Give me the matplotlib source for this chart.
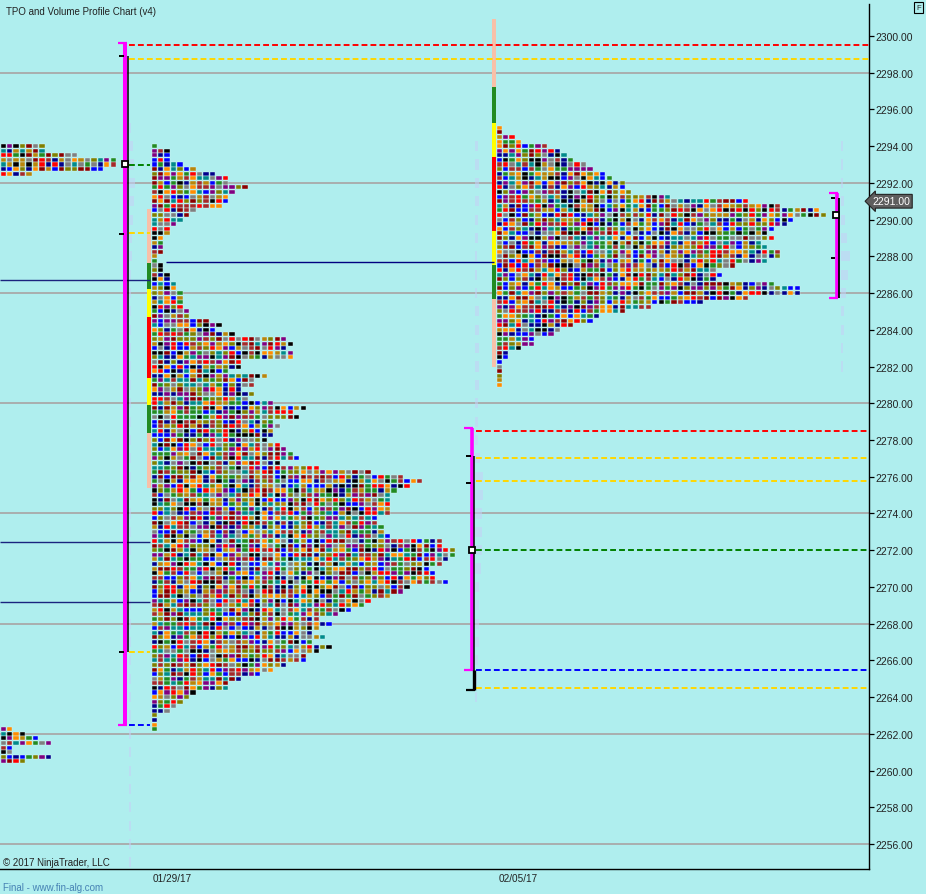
import numpy as np
import matplotlib
matplotlib.use('Agg')
import matplotlib.pyplot as plt

BG = '#AFEEEE'
TICK = 0.25
FONT = ['Liberation Sans', 'DejaVu Sans']
plt.rcParams['font.family'] = FONT

# ---- TPO counts per price row (top row first, 0.25 step) ----
p1_top = 2294.0
p1_counts = [
    1, 3, 3, 3, 5, 7, 10, 12, 12, 15, 13, 12, 12, 11, 7, 6, 5, 4, 3, 3, 2, 2, 2, 2,
    1, 1, 2, 2, 3, 3, 4, 4, 5,
    5, 5, 5, 6, 6, 9, 11, 10, 13, 21, 22, 21, 22, 22, 14, 14, 12, 18, 16, 16, 14, 16,
    15, 19, 24, 22, 23, 19, 20, 19, 19, 18, 20, 21, 22, 23,
    20, 26, 34, 39, 42, 40, 38, 37, 37, 37, 37, 37, 35, 35, 36, 36, 37, 45, 45, 47,
    47, 46, 45, 43, 44, 44, 46, 40, 39, 37,
    34, 33, 31, 29, 26, 28, 26, 25, 27, 25, 28, 26, 24, 24, 21, 19, 17, 14, 12, 12,
    7, 6, 5, 4, 3, 1, 1, 1, 1,
]
p2_top = 2295.0
p2_counts = [
    1, 1, 3, 4, 8, 10, 11, 12, 14, 15, 17, 18, 20, 20, 21, 27, 39, 44, 50, 51,
    46, 45, 43, 42, 43, 41, 42, 44, 44, 42, 37, 34, 35, 34, 43, 47, 47, 39, 32, 24,
    20, 16, 15, 12, 10, 9, 6, 6, 4, 2, 2, 1, 1, 1, 1, 1, 1,
]
prev_hi_top = 2294.0
prev_hi_counts = [7, 7, 12, 18, 18, 16, 5]
prev_lo_top = 2262.25
prev_lo_counts = [2, 4, 6, 8, 2, 2, 8, 4]

# ---- period colour strips next to each profile ----
strip1_edges = [2290.6, 2287.65, 2286.2, 2284.7, 2281.4, 2279.9, 2278.4, 2275.4]
strip2_edges = [2300.9, 2297.2, 2295.25, 2293.4, 2289.4, 2287.55, 2285.7, 2281.95]
strip_colors = ['#F8C0A8', '#228B22', '#FFFF00', '#FF0000', '#FFFF00', '#228B22', '#F8C0A8']

# ---- volume profiles (px width per 1.0 point) ----
vol1_prices = np.arange(2295, 2254, -1)
vol1_width = [2, 4, 5, 6, 5, 4, 3, 3, 2, 2, 2, 2, 2, 2, 2, 2, 2, 2, 2, 2, 2,
              2, 2, 2, 2, 2, 2, 2, 2, 2, 2, 2, 2, 2, 2, 2, 2, 2, 2, 2, 2]
vol2_prices = np.arange(2294, 2263, -1)
vol2_width = [3, 4, 4, 4, 3, 3, 2, 2, 2, 4, 4, 4, 4, 4, 3, 3, 3, 5, 8, 8, 7,
              7, 7, 6, 4, 4, 4, 4, 3, 2, 2]
vol3_prices = np.arange(2294, 2281, -1)
vol3_width = [2, 2, 2, 3, 4, 6, 9, 7, 5, 3, 3, 2, 2]

# ---- value-area / reference levels ----
va1_long = [(2299.5, '#FF0000'), (2298.75, '#FFD700')]
va1_short = [(2293.0, '#008000'), (2289.25, '#FFD700'), (2266.45, '#FFD700'), (2262.5, '#0000FF')]
va2_levels = [(2278.5, '#FF0000'), (2277.0, '#FFD700'), (2275.75, '#FFD700'),
              (2272.0, '#008000'), (2265.5, '#0000FF'), (2264.5, '#FFD700')]
naked_left = [2286.7, 2272.45, 2269.2]
naked_mid = 2287.68

grid_levels = np.arange(2256, 2300, 6)
price_ticks = np.arange(2256, 2301, 2)
last_price = 2291.0
date_labels = ['01/29/17', '02/05/17']

PALETTE = ['#808000', '#FF0000', '#000000', '#228B22', '#0000FF', '#A52A2A',
           '#00008B', '#8B0000', '#800080', '#FF8C00', '#808080', '#008B8B', '#B8860B']

PITCH = 6.48


def tpo_color(i, j, seed):
    # integer hash -> colour, so neighbouring blocks differ like TPO period colours
    x = (seed * 100003 + i * 1009 + j * 7919 + 12345) & 0xFFFFFFFF
    x = ((x ^ (x >> 16)) * 0x45D9F3B) & 0xFFFFFFFF
    x = ((x ^ (x >> 16)) * 0x45D9F3B) & 0xFFFFFFFF
    x = x ^ (x >> 16)
    return PALETTE[x % len(PALETTE)]


def draw_tpo(ax, top, counts, x0, seed):
    xs, ys, cs = [], [], []
    for i, n in enumerate(counts):
        price = top - i * TICK
        for j in range(n):
            xs.append(x0 + j * PITCH)
            ys.append(price - 0.11)
            cs.append(tpo_color(i, j, seed))
    ax.bar(xs, 0.22, width=5.3, bottom=ys, align='edge', color=cs,
           edgecolor='#D6F4F4', linewidth=0.3, zorder=3)


def draw_strip(ax, x0, edges):
    for k, c in enumerate(strip_colors):
        ax.bar(x0, edges[k] - edges[k + 1], bottom=edges[k + 1], width=4,
               align='edge', color=c, linewidth=0, zorder=2)


fig = plt.figure(figsize=(9.26, 8.95), dpi=100, facecolor=BG)
ax = fig.add_axes([0, 25 / 895, 869 / 926, 865 / 895], facecolor=BG)
ax.set_xlim(0, 869)
ax.set_ylim(2254.64, 2301.74)

for g in grid_levels:
    ax.axhline(g, color='#A9A9A9', lw=1.3, zorder=0)

# volume profiles (faint)
for prices, widths, left in ((vol1_prices, vol1_width, 128.5),
                             (vol2_prices, vol2_width, 474.5),
                             (vol3_prices, vol3_width, 840.5)):
    ax.barh(prices, widths, left=left, height=0.55, color='#C6D0F6', alpha=0.55,
            linewidth=0, zorder=1)

# TPO profiles
draw_tpo(ax, prev_hi_top, prev_hi_counts, 0.5, 2)
draw_tpo(ax, prev_lo_top, prev_lo_counts, 0.5, 5)
draw_tpo(ax, p1_top, p1_counts, 151.5, 0)
draw_tpo(ax, p2_top, p2_counts, 496.5, 4)
draw_strip(ax, 147.3, strip1_edges)
draw_strip(ax, 492.3, strip2_edges)

# naked POC lines
ax.hlines(naked_left, 0, 150, color='#1A237E', lw=1.0, zorder=2)
ax.hlines(naked_mid, 166, 494, color='#000080', lw=1.0, zorder=2)

dash = (0, (3, 1.6))
for lvl, c in va1_long:
    ax.hlines(lvl, 129, 869, color=c, lw=1.4, linestyles=[dash], zorder=4)
for lvl, c in va1_short:
    ax.hlines(lvl, 129, 150, color=c, lw=1.4, linestyles=[dash], zorder=4)
for lvl, c in va2_levels:
    ax.hlines(lvl, 476, 869, color=c, lw=1.4, linestyles=[dash], zorder=4)

# bracket 1
ax.vlines(125.3, 2262.5, 2299.6, color='#FF00FF', lw=2.9, zorder=5)
ax.hlines([2299.6, 2262.5], 118, 127, color='#FF00FF', lw=1.6, zorder=5)
ax.vlines(128.2, 2266.45, 2298.9, color='black', lw=1.1, zorder=5)
ax.hlines([2298.9, 2289.2, 2266.45], 119, 124, color='black', lw=1.4, zorder=5)
ax.plot(124.5, 2293.05, marker='s', ms=4.5, mfc='white', mec='black', mew=1.3, zorder=6)

# bracket 2
ax.vlines(472.3, 2265.45, 2278.65, color='#FF00FF', lw=2.6, zorder=5)
ax.hlines([2278.65, 2265.45], 464, 473, color='#FF00FF', lw=1.6, zorder=5)
ax.vlines(474.3, 2264.4, 2277.15, color='black', lw=1.1, zorder=5)
ax.vlines(473.6, 2264.4, 2265.45, color='black', lw=2.4, zorder=5)
ax.hlines([2277.15, 2275.68], 466, 471, color='black', lw=1.4, zorder=5)
ax.hlines(2264.4, 466, 475, color='black', lw=1.6, zorder=5)
ax.plot(471.5, 2272.03, marker='s', ms=4.5, mfc='white', mec='black', mew=1.3, zorder=6)

# bracket 3
ax.vlines(836.5, 2285.72, 2291.43, color='#FF00FF', lw=2.6, zorder=5)
ax.hlines([2291.43, 2285.72], 829, 838, color='#FF00FF', lw=1.6, zorder=5)
ax.vlines(839.2, 2285.72, 2291.2, color='black', lw=1.3, zorder=5)
ax.hlines([2291.16, 2287.93], 831, 835, color='black', lw=1.4, zorder=5)
ax.plot(835.5, 2290.25, marker='s', ms=4.5, mfc='white', mec='black', mew=1.3, zorder=6)

# axes styling
for side in ('left', 'top'):
    ax.spines[side].set_visible(False)
ax.spines['right'].set_linewidth(1.0)
ax.spines['bottom'].set_linewidth(1.0)
ax.set_xticks([])
ax.yaxis.tick_right()
ax.set_yticks(price_ticks)
ax.set_yticklabels([f'{v:.2f}' for v in price_ticks])
ax.tick_params(axis='y', direction='out', length=3.6, width=0.9, pad=1,
               labelsize=7.5, labelcolor='#222222')

# last-price tag
ax.text(1.004, last_price, f'{last_price:.2f}', transform=ax.get_yaxis_transform(),
        ha='left', va='center', fontsize=7.5, color='white', zorder=10,
        bbox=dict(boxstyle='larrow,pad=0.18', fc='#5E5E5E', ec='#222222', lw=0.8),
        clip_on=False)

fig.text(6 / 926, 1 - 12 / 895, 'TPO and Volume Profile Chart (v4)', fontsize=7,
         color='#222222', va='center', ha='left')
fig.text(3 / 926, 1 - 863 / 895, '\u00a9 2017 NinjaTrader, LLC', fontsize=7,
         color='#222222', va='center', ha='left')
fig.text(3 / 926, 1 - 888 / 895, 'Final - www.fin-alg.com', fontsize=7,
         color='#4682B4', va='center', ha='left')
fig.text(172 / 926, 1 - 879 / 895, date_labels[0], fontsize=7.2, color='#222222',
         va='center', ha='center')
fig.text(518 / 926, 1 - 879 / 895, date_labels[1], fontsize=7.2, color='#222222',
         va='center', ha='center')
fig.text(918.5 / 926, 1 - 8.5 / 895, 'F', fontsize=5.5, color='#222222', va='center',
         ha='center', bbox=dict(boxstyle='square,pad=0.3', fc=BG, ec='black', lw=0.8))

fig.savefig('out.png', dpi=100, facecolor=BG)
